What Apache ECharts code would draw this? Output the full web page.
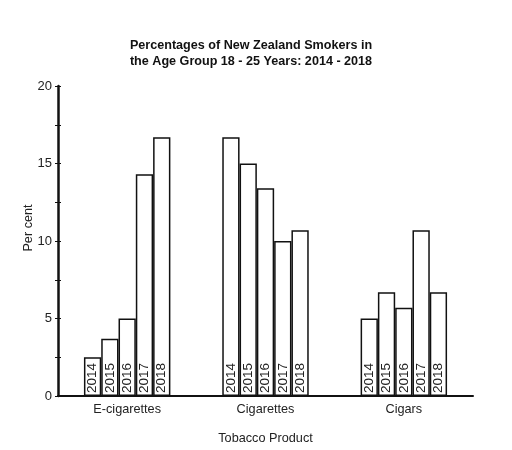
<!DOCTYPE html>
<html>
<head>
<meta charset="utf-8">
<script src="https://cdn.jsdelivr.net/npm/echarts@6/dist/echarts.min.js"></script>
<style>
  html, body { margin: 0; padding: 0; background: #fff; }
  #chart { width: 512px; height: 450px; }
</style>
</head>
<body>
<div id="chart"></div>
<script>
// 데이터
const products = ['E-cigarettes', 'Cigarettes', 'Cigars'];
const years = ['2014', '2015', '2016', '2017', '2018'];
const val2014 = [2.5, 16.7, 5.0];
const val2015 = [3.7, 15.0, 6.7];
const val2016 = [5.0, 13.4, 5.7];
const val2017 = [14.3, 10.0, 10.7];
const val2018 = [16.7, 10.7, 6.7];
const yearValues = [val2014, val2015, val2016, val2017, val2018];

const font = 'Liberation Sans, Arial, sans-serif';

const chart = echarts.init(document.getElementById('chart'));

const series = years.map((y, i) => ({
  name: y,
  type: 'bar',
  data: yearValues[i],
  barGap: 0,
  barCategoryGap: '37.5%',
  itemStyle: { color: '#fff', borderColor: '#111', borderWidth: 1.5 },
  label: {
    show: true,
    formatter: y,
    position: 'insideBottom',
    rotate: 90,
    align: 'left',
    verticalAlign: 'middle',
    distance: 3,
    color: '#222',
    fontSize: 13.5,
    fontFamily: font
  }
}));

chart.setOption({
  animation: false,
  title: {
    text: 'Percentages of New Zealand Smokers in\nthe Age Group 18 - 25 Years: 2014 - 2018',
    left: 246,
    top: 33,
    textAlign: 'center',
    textStyle: { fontSize: 12.6, fontWeight: 'bold', fontFamily: font, color: '#111', lineHeight: 16 }
  },
  // y축 이름 (위치 조정 위해 graphic 사용)
  graphic: [{
    type: 'text',
    x: 28,
    y: 228,
    rotation: Math.PI / 2,
    style: {
      text: 'Per cent',
      fontSize: 12.7,
      fontFamily: font,
      fill: '#222',
      align: 'center',
      verticalAlign: 'middle'
    }
  }],
  grid: { left: 58, right: 39, top: 86, bottom: 49 },
  xAxis: {
    type: 'category',
    data: products,
    name: 'Tobacco Product',
    nameLocation: 'middle',
    nameGap: 36,
    nameTextStyle: { fontSize: 12.7, fontFamily: font, color: '#222' },
    axisLine: { lineStyle: { color: '#111', width: 2 } },
    axisTick: { show: false },
    axisLabel: { fontSize: 12.7, fontFamily: font, color: '#222', margin: 7 }
  },
  yAxis: [{
    type: 'value',
    min: 0,
    max: 20,
    interval: 2.5,
    axisLine: { show: true, lineStyle: { color: '#111', width: 2.5 } },
    axisTick: { show: true, length: 3, lineStyle: { color: '#111', width: 1 } },
    splitLine: { show: false },
    axisLabel: {
      fontSize: 13, fontFamily: font, color: '#222', margin: 6,
      formatter: v => (v % 5 === 0 ? String(v) : '')
    }
  }, {
    // 안쪽 눈금 (십자 모양)
    type: 'value',
    position: 'left',
    min: 0,
    max: 20,
    interval: 2.5,
    axisLine: { show: false },
    axisTick: { show: true, inside: true, length: 3, lineStyle: { color: '#111', width: 1 } },
    axisLabel: { show: false },
    splitLine: { show: false }
  }],
  series
});
</script>
</body>
</html>
